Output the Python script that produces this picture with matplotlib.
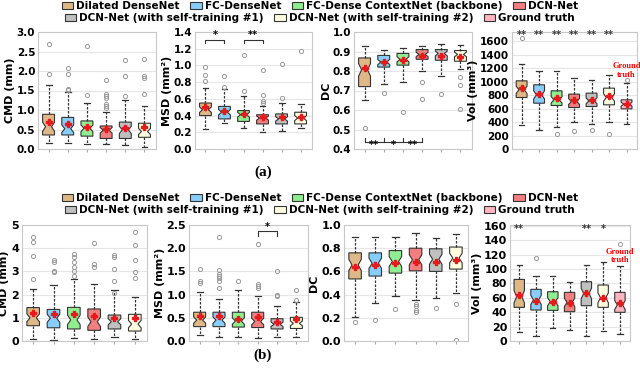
import numpy as np
import matplotlib
matplotlib.use("Agg")
import matplotlib.pyplot as plt
from matplotlib.patches import Patch

# method names and box colours
methods = ["Dilated DenseNet", "FC-DenseNet", "FC-Dense ContextNet (backbone)", "DCN-Net",
           "DCN-Net (with self-training #1)", "DCN-Net (with self-training #2)", "Ground truth"]
colors = ["burlywood", "lightskyblue", "lightgreen", "lightcoral", "silver", "lightyellow", "lightpink"]

# box values per panel: whislo, q1, median, q3, whishi, mean
a_cmd = [[0.15, 0.36, 0.57, 0.89, 1.64, 0.70],
         [0.15, 0.36, 0.52, 0.81, 1.47, 0.64],
         [0.13, 0.33, 0.53, 0.72, 1.19, 0.57],
         [0.12, 0.27, 0.48, 0.59, 0.96, 0.51],
         [0.09, 0.27, 0.49, 0.69, 1.26, 0.53],
         [0.05, 0.30, 0.45, 0.66, 1.10, 0.56]]
a_cmd_fl = [[1.93, 2.69], [1.52, 1.55, 1.92, 2.08], [1.38, 2.63],
            [1.05, 1.10, 1.15, 1.30, 1.36, 1.40, 1.77], [1.36, 1.87, 2.28], [1.41, 1.83, 1.88, 2.32]]

a_msd = [[0.24, 0.40, 0.47, 0.55, 0.73, 0.50],
         [0.31, 0.36, 0.44, 0.51, 0.72, 0.45],
         [0.25, 0.33, 0.41, 0.46, 0.63, 0.42],
         [0.20, 0.30, 0.37, 0.41, 0.51, 0.38],
         [0.22, 0.30, 0.36, 0.42, 0.55, 0.38],
         [0.25, 0.30, 0.37, 0.44, 0.54, 0.38]]
a_msd_fl = [[0.81, 0.89, 0.98], [0.74, 0.87], [0.69, 1.13], [0.55, 0.58, 0.65, 0.94], [0.61, 1.02], [1.17]]

a_dc = [[0.650, 0.720, 0.806, 0.867, 0.930, 0.815],
        [0.735, 0.820, 0.846, 0.880, 0.910, 0.845],
        [0.745, 0.830, 0.860, 0.890, 0.920, 0.855],
        [0.800, 0.860, 0.885, 0.910, 0.930, 0.875],
        [0.775, 0.855, 0.890, 0.910, 0.940, 0.875],
        [0.810, 0.850, 0.885, 0.905, 0.935, 0.870]]
a_dc_fl = [[0.51], [0.685], [0.59], [0.745, 0.655], [0.68], [0.77, 0.73, 0.605]]

a_vol = [[358, 766, 880, 1014, 1263, 905],
         [283, 681, 805, 955, 1154, 815],
         [333, 647, 731, 865, 1164, 756],
         [408, 617, 706, 816, 1055, 726],
         [368, 632, 716, 831, 1020, 726],
         [408, 657, 766, 905, 1094, 781],
         [373, 597, 667, 731, 980, 672]]
a_vol_fl = [[1650], [], [219], [269], [283], [219], [1030]]

b_cmd = [[0.09, 0.66, 1.00, 1.44, 2.24, 1.19],
         [0.04, 0.57, 0.98, 1.36, 2.41, 1.15],
         [0.12, 0.52, 0.91, 1.45, 2.67, 1.15],
         [0.09, 0.46, 0.83, 1.38, 2.46, 1.08],
         [0.17, 0.52, 0.83, 1.12, 2.20, 1.00],
         [0.10, 0.43, 0.73, 1.15, 1.90, 1.00]]
b_cmd_fl = [[2.66, 3.68, 4.26, 4.50], [2.98, 3.02, 3.40, 3.48], [2.80, 3.00, 3.20, 3.40, 3.60, 3.75],
            [3.20, 3.30, 4.24], [2.05, 2.60, 3.10, 3.60, 3.70], [2.70, 2.96, 3.50, 4.15, 4.70]]

b_msd = [[0.14, 0.31, 0.45, 0.62, 1.05, 0.54],
         [0.08, 0.31, 0.45, 0.62, 0.90, 0.54],
         [0.08, 0.30, 0.43, 0.62, 1.10, 0.48],
         [0.06, 0.29, 0.42, 0.62, 0.97, 0.51],
         [0.09, 0.26, 0.36, 0.48, 0.76, 0.42],
         [0.09, 0.27, 0.38, 0.51, 0.85, 0.47]]
b_msd_fl = [[1.25, 1.30, 1.56], [1.15, 1.30, 1.35, 1.40, 1.45, 1.53, 2.25], [1.30],
            [1.15, 1.18, 1.23, 2.08], [0.97, 1.00, 1.50], [0.88, 1.10]]

b_dc = [[0.205, 0.535, 0.655, 0.760, 0.895, 0.635],
        [0.330, 0.560, 0.670, 0.760, 0.895, 0.655],
        [0.390, 0.585, 0.685, 0.780, 0.900, 0.670],
        [0.350, 0.605, 0.700, 0.800, 0.935, 0.685],
        [0.370, 0.600, 0.705, 0.795, 0.885, 0.685],
        [0.410, 0.620, 0.715, 0.810, 0.925, 0.700]]
b_dc_fl = [[0.165], [0.185], [0.28], [0.25, 0.27, 0.30, 0.32], [0.285], [0.32, 0.005]]

b_vol = [[12, 46.7, 61.5, 85.5, 106, 64],
         [7.4, 43, 57, 71.7, 90.6, 56],
         [17.6, 42.5, 54.6, 68.4, 90.6, 54.6],
         [15.3, 40.7, 53.6, 67.5, 82.3, 53.2],
         [7.4, 49, 66, 82.3, 106, 66.6],
         [13.9, 46.7, 60, 77.7, 110, 60],
         [10.2, 39.8, 50, 67.5, 104, 52.3]]
b_vol_fl = [[], [115], [], [], [], [], [135]]

W, H = 640, 370
fig = plt.figure(figsize=(W / 100, H / 100), dpi=100)


def px_axes(l, t, r, b):
    return fig.add_axes([l / W, 1 - b / H, (r - l) / W, (b - t) / H])


def draw_panel(ax, boxes, fliers, ylabel, ylim, yticks, fmt, fs, lfs):
    stats = []
    for bx, fl in zip(boxes, fliers):
        lo, q1, med, q3, hi, mean = bx
        ci = 0.22 * (q3 - q1)
        stats.append(dict(whislo=lo, q1=q1, med=med, q3=q3, whishi=hi, mean=mean,
                          fliers=fl, cilo=max(q1 + 0.1 * (q3 - q1), med - ci),
                          cihi=min(q3 - 0.1 * (q3 - q1), med + ci)))
    n = len(stats)
    res = ax.bxp(stats, positions=range(1, n + 1), widths=0.62, shownotches=True,
                 showmeans=True, patch_artist=True,
                 boxprops=dict(edgecolor="#333333", linewidth=0.8),
                 whiskerprops=dict(color="#333333", linestyle=(0, (2, 1.2)), linewidth=0.9),
                 capprops=dict(color="#333333", linewidth=0.9),
                 medianprops=dict(linewidth=0),
                 meanprops=dict(marker="P", markerfacecolor="#e41a1c", markeredgecolor="#e41a1c",
                                markersize=5),
                 flierprops=dict(marker="o", markerfacecolor="none", markeredgecolor="#999999",
                                 markersize=3, markeredgewidth=0.7))
    for patch, c in zip(res["boxes"], colors):
        patch.set_facecolor(c)
    ax.set_xlim(0.45, n + 0.6)
    ax.set_ylim(*ylim)
    ax.set_yticks(yticks)
    ax.set_yticklabels([fmt % v for v in yticks], fontweight="bold", fontsize=fs)
    ax.set_xticks(range(1, n + 1))
    ax.set_xticklabels([])
    ax.tick_params(axis="x", length=2, color="#aaaaaa")
    ax.tick_params(axis="y", length=0, pad=2)
    ax.grid(axis="y", color="#e6e6e6", linewidth=0.8)
    ax.set_axisbelow(True)
    for s in ax.spines.values():
        s.set_color("#c8c8c8")
        s.set_linewidth(0.8)
    ax.set_ylabel(ylabel, fontweight="bold", fontsize=lfs, labelpad=1.5)


def bracket(ax, x1, x2, y, drop, text, ty):
    ax.plot([x1, x1, x2, x2], [y - drop, y, y, y - drop], color="#333333", lw=0.8)
    ax.text((x1 + x2) / 2, ty, text, ha="center", va="center", fontsize=7, fontweight="bold")


# row (a)
ax = px_axes(38, 32, 156, 149)
draw_panel(ax, a_cmd, a_cmd_fl, "CMD (mm)", (0, 3.0), np.arange(0, 3.01, 0.5), "%.1f", 7.5, 8)

ax = px_axes(195, 32, 312, 149)
draw_panel(ax, a_msd, a_msd_fl, "MSD (mm²)", (0, 1.4), np.arange(0, 1.41, 0.2), "%.1f", 7.5, 8)
bracket(ax, 1, 2, 1.31, 0.04, "*", 1.36)
bracket(ax, 3, 4, 1.31, 0.04, "**", 1.36)

ax = px_axes(354, 32, 472, 149)
draw_panel(ax, a_dc, a_dc_fl, "DC", (0.4, 1.0), np.arange(0.4, 1.001, 0.1), "%.1f", 7.5, 8)
ax.plot([1, 4], [0.438, 0.438], color="#333333", lw=0.8)
for xx in [1, 2, 3, 4]:
    ax.plot([xx, xx], [0.438, 0.455], color="#333333", lw=0.8)
for xx, t in zip([1.5, 2.5, 3.5], ["**", "*", "**"]):
    ax.text(xx, 0.418, t, ha="center", va="center", fontsize=7, fontweight="bold")

ax = px_axes(512, 32, 637, 149)
draw_panel(ax, a_vol, a_vol_fl, "Vol (mm³)", (0, 1740), np.arange(0, 1601, 200), "%d", 7.5, 8)
for xx in range(1, 7):
    ax.text(xx, 1690, "**", ha="center", va="center", fontsize=7, fontweight="bold", color="#333333")
ax.text(7, 1230, "Ground", ha="center", va="center", fontsize=6, fontweight="bold",
        color="red", family="Liberation Serif", clip_on=False)
ax.text(7, 1105, "truth", ha="center", va="center", fontsize=6, fontweight="bold",
        color="red", family="Liberation Serif", clip_on=False)

# row (b)
ax = px_axes(22, 225, 147, 341)
draw_panel(ax, b_cmd, b_cmd_fl, "CMD (mm)", (0, 5), np.arange(0, 5.01, 1), "%d", 8, 8)

ax = px_axes(189, 225, 308, 341)
draw_panel(ax, b_msd, b_msd_fl, "MSD (mm²)", (0, 2.5), np.arange(0, 2.51, 0.5), "%.1f", 8, 8)
bracket(ax, 4, 5, 2.36, 0.09, "*", 2.45)

ax = px_axes(344, 225, 468, 341)
draw_panel(ax, b_dc, b_dc_fl, "DC", (0, 1.0), np.arange(0, 1.01, 0.2), "%.1f", 8, 8)

ax = px_axes(510, 225, 630, 341)
draw_panel(ax, b_vol, b_vol_fl, "Vol (mm³)", (0, 161), np.arange(0, 161, 20), "%d", 8, 8)
for xx, t in zip([1, 5, 6], ["**", "**", "*"]):
    ax.text(xx, 156, t, ha="center", va="center", fontsize=7, fontweight="bold", color="#333333")
ax.text(7, 124, "Ground", ha="center", va="center", fontsize=6, fontweight="bold",
        color="red", family="Liberation Serif", clip_on=False)
ax.text(7, 112, "truth", ha="center", va="center", fontsize=6, fontweight="bold",
        color="red", family="Liberation Serif", clip_on=False)

# legends and panel captions
handles = [Patch(facecolor=c, edgecolor="#333333", linewidth=0.8) for c in colors]
for y_top, y_bot in [(6, 18), (198, 210)]:
    for idx, yy in [(slice(0, 4), y_top), (slice(4, 7), y_bot)]:
        fig.legend(handles[idx], methods[idx], loc="center", bbox_to_anchor=(0.5, 1 - yy / H),
                   ncol=4, frameon=False, prop=dict(weight="bold", size=7.5),
                   handlelength=1.1, handleheight=0.7, handletextpad=0.3,
                   columnspacing=1.0, borderpad=0, borderaxespad=0)

fig.text(263 / W, 1 - 172 / H, "(a)", ha="center", va="center", fontsize=11,
         fontweight="bold", family="Liberation Serif")
fig.text(263 / W, 1 - 355 / H, "(b)", ha="center", va="center", fontsize=11,
         fontweight="bold", family="Liberation Serif")

fig.savefig("out.png", dpi=100)
